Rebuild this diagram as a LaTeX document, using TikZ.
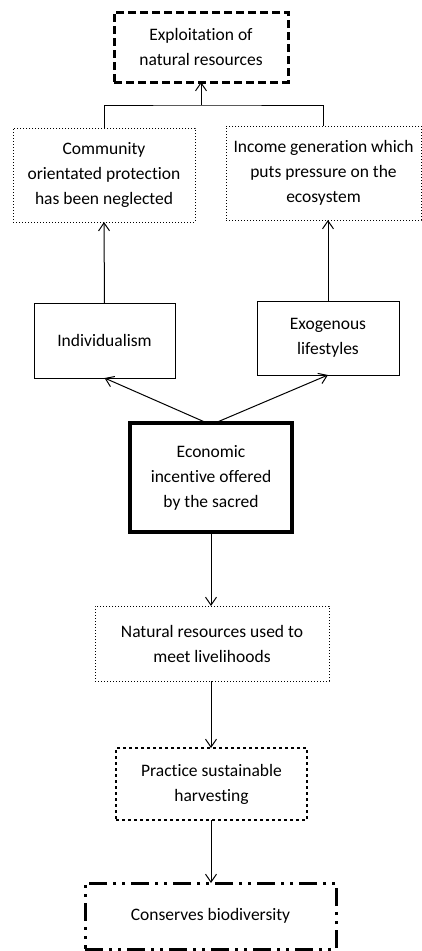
\documentclass[tikz,border=0pt]{standalone}
\usepackage{fontspec}
\setmainfont{Carlito}[Ligatures=NoCommon]
\usetikzlibrary{arrows.meta}
\tikzset{
  box/.style={draw=black, inner sep=0pt, align=center, outer sep=0pt,
    font=\fontsize{17.5pt}{25pt}\selectfont, text=black},
  solidbox/.style={box, line width=1pt},
  dotbox/.style={box, line width=1pt, dash pattern=on 1pt off 2pt},
  dashbox/.style={box, line width=3pt, dash pattern=on 8pt off 4pt},
  heavybox/.style={box, line width=4.5pt},
  bigdotbox/.style={box, line width=2.6pt, dash pattern=on 2.6pt off 3.4pt},
  dashdotbox/.style={box, line width=3pt, dash pattern=on 18pt off 6pt on 3pt off 6pt on 3pt off 6pt},
  link/.style={line width=1pt},
  arr/.style={link, -{Straight Barb[length=8pt,width=11pt,line width=1pt]}}
}
\begin{document}
\begin{tikzpicture}[x=1pt,y=-1pt]
  \useasboundingbox (0,0) rectangle (422,951);
  % top of the chain
  \node[dashbox, minimum width=174pt, minimum height=70pt] (expl) at (201,47)
    {Exploitation of\\natural resources};
  \node[dotbox, minimum width=182pt, minimum height=94pt] (comm) at (104,175)
    {Community\\orientated protection\\has been neglected};
  \node[dotbox, minimum width=195pt, minimum height=94pt] (inc) at (323.5,173)
    {Income generation which\\puts pressure on the\\ecosystem};
  % middle row
  \node[solidbox, minimum width=141pt, minimum height=75pt] (ind) at (104.5,340.5)
    {Individualism};
  \node[solidbox, minimum width=142pt, minimum height=74pt] (exo) at (328,338)
    {Exogenous\\lifestyles};
  \node[heavybox, minimum width=162pt, minimum height=109pt] (eco) at (211,477.5)
    {Economic\\incentive offered\\by the sacred};
  % lower chain
  \node[dotbox, minimum width=234pt, minimum height=75pt] (nat) at (212,643.5)
    {Natural resources used to\\meet livelihoods};
  \node[bigdotbox, minimum width=191pt, minimum height=72pt] (prac) at (211.5,784)
    {Practice sustainable\\harvesting};
  \node[dashdotbox, minimum width=251pt, minimum height=66pt] (cons) at (210.5,916)
    {Conserves biodiversity};

  % connectors
  \coordinate (join) at (201,105);
  \draw[link] (comm.north) |- (join) -| (inc.north);
  \draw[arr] (join) -- (expl.south);
  \draw[arr] (ind.north) -- (comm.south);
  \draw[arr] (exo.north) -- (inc.south -| exo.north);
  \draw[arr] ([xshift=-4pt]eco.north) -- (ind.south);
  \draw[arr] ([xshift=4pt]eco.north) -- (exo.south);
  \draw[arr] (eco.south) -- (eco.south |- nat.north);
  \draw[arr] (nat.south -| eco.south) -- (eco.south |- prac.north);
  \draw[arr] (prac.south -| eco.south) -- (eco.south |- cons.north);
\end{tikzpicture}
\end{document}
